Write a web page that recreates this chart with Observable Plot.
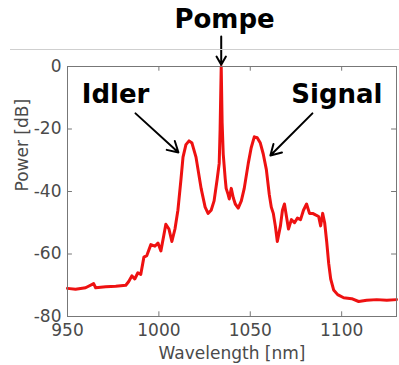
<!DOCTYPE html>
<html>
<head>
<meta charset="utf-8">
<script src="https://cdn.jsdelivr.net/npm/d3@7"></script>
<script src="https://cdn.jsdelivr.net/npm/@observablehq/plot@0.6"></script>
<style>
  html, body { margin: 0; padding: 0; background: #fff; }
  #wrap { position: relative; width: 399px; height: 365px; }
  #sep { position: absolute; left: 10px; top: 49px; width: 389px; height: 0; border-top: 1px solid #cfcfcf; }
  #chart { position: absolute; left: 0; top: 0; }
</style>
</head>
<body>
<div id="wrap"><div id="chart"></div><div id="sep"></div></div>
<script>
// Spectrum (wavelength in nm, power in dB)
const wavelength = [950, 954.4, 959.9, 964.3, 965.4, 970.9, 976.4, 981.9, 983.5, 985.2, 986.8, 988.5, 990.1, 991.8, 993.4, 995.6, 997.8, 999.5, 1001.1, 1002.7, 1003.8, 1005.5, 1007.1, 1008.8, 1010.4, 1012.1, 1013.2, 1014.8, 1016.5, 1018.1, 1020.3, 1023.1, 1025.3, 1026.9, 1028.6, 1030.2, 1031.9, 1033, 1033.5, 1034.1, 1034.6, 1035.2, 1036.3, 1036.8, 1037.9, 1038.5, 1039.6, 1040.7, 1041.8, 1043.4, 1045.1, 1046.7, 1048.9, 1050.5, 1052.2, 1053.8, 1055.5, 1057.1, 1058.8, 1060.4, 1061.5, 1062.6, 1063.7, 1064.8, 1066.5, 1067.6, 1068.7, 1069.8, 1070.9, 1072.5, 1074.2, 1075.8, 1077.5, 1079.1, 1080.8, 1082.4, 1084.1, 1085.7, 1087.4, 1088.5, 1089.6, 1090.7, 1091.8, 1092.9, 1094, 1095.6, 1097.8, 1101.1, 1105.5, 1109.3, 1113.7, 1119.2, 1124.7, 1130];
const power = [-71, -71.3, -70.8, -69.5, -70.8, -70.5, -70.3, -70, -68.8, -67, -68, -66, -66.5, -61, -60.5, -57, -57.5, -56.5, -59, -54, -50.5, -52, -56, -52, -46, -36, -29, -25, -23.8, -24.5, -29, -39, -45, -47, -46, -43, -36, -31, -20, 0, -18, -28, -36, -39, -41, -42.4, -39, -42, -44, -45.3, -43, -39, -31, -26, -22.5, -22.8, -24.5, -28, -33, -41, -45, -47, -51, -56, -51, -46, -44, -48, -52, -49, -50, -48.5, -49, -46, -44, -47, -47, -47.5, -48, -51, -47, -50, -56, -63, -68, -71.5, -73, -74, -74.3, -75.2, -74.8, -74.6, -74.8, -74.6];

// Axis ticks
const xTicks = [950, 1000, 1050, 1100];
const yTicks = [0, -20, -40, -60, -80];

// Annotations
const labelText = ["Pompe", "Idler", "Signal"];
const labelX = [1035.9, 976.3, 1097.4];
const labelY = [12.2, -11.8, -11.8];
const arrowX1 = [1034.1, 987.2, 1084];
const arrowY1 = [9.6, -15, -15];
const arrowX2 = [1034.1, 1010.7, 1061];
const arrowY2 = [0.6, -27.5, -28.5];

const spectrum = wavelength.map((w, i) => ({w, p: power[i]}));
const labels = labelText.map((t, i) => ({t, x: labelX[i], y: labelY[i]}));
const arrows = arrowX1.map((x1, i) => ({x1, y1: arrowY1[i], x2: arrowX2[i], y2: arrowY2[i]}));

const xDom = [950, 1130];
const yDom = [-80, 0];
const tickLenX = 2.7; // nm
const tickLenY = 1.5; // dB

const chart = Plot.plot({
  width: 399,
  height: 365,
  marginLeft: 67,
  marginRight: 3,
  marginTop: 66,
  marginBottom: 49,
  style: {fontFamily: "DejaVu Sans", fontSize: "17px", color: "#4a4a4a", background: "transparent", overflow: "visible"},
  x: {domain: xDom},
  y: {domain: yDom},
  marks: [
    Plot.axisX({anchor: "bottom", ticks: xTicks, tickSize: 0, tickPadding: 7, label: null, tickFormat: d => String(d)}),
    Plot.axisY({anchor: "left", ticks: yTicks, tickSize: 0, tickPadding: 6, label: null, tickFormat: d => String(d)}),
    Plot.ruleX(xTicks, {x: d => d, y1: yDom[1], y2: yDom[1] - tickLenY, stroke: "#777"}),
    Plot.ruleX(xTicks, {x: d => d, y1: yDom[0], y2: yDom[0] + tickLenY, stroke: "#777"}),
    Plot.ruleY(yTicks, {y: d => d, x1: xDom[0], x2: xDom[0] + tickLenX, stroke: "#777"}),
    Plot.ruleY(yTicks, {y: d => d, x1: xDom[1], x2: xDom[1] - tickLenX, stroke: "#777"}),
    Plot.line(spectrum, {x: "w", y: "p", stroke: "#ee1111", strokeWidth: 3, strokeLinejoin: "round"}),
    Plot.frame({stroke: "#777", strokeWidth: 1}),
    Plot.text(["Power [dB]"], {frameAnchor: "left", rotate: -90, dx: -45, fill: "#4a4a4a", fontSize: 17}),
    Plot.text(["Wavelength [nm]"], {frameAnchor: "bottom", dy: 42, lineAnchor: "bottom", fill: "#4a4a4a", fontSize: 17}),
    Plot.arrow(arrows, {x1: "x1", y1: "y1", x2: "x2", y2: "y2", stroke: "black", strokeWidth: 2, headLength: 9, clip: false}),
    Plot.text(labels, {x: "x", y: "y", text: "t", textAnchor: "middle", lineAnchor: "bottom", fontWeight: "bold", fontSize: 26, fill: "black", clip: false})
  ]
});
document.getElementById("chart").appendChild(chart);
</script>
</body>
</html>
